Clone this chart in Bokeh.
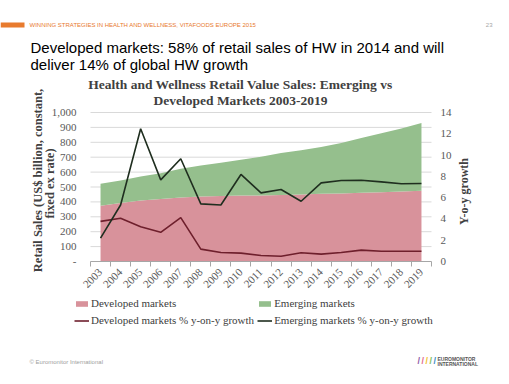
from math import pi
from bokeh.plotting import figure
from bokeh.models import (ColumnDataSource, Range1d, LinearAxis, FixedTicker, Label,
                          Legend, LegendItem, BoxAnnotation)
from bokeh.embed import file_html
from bokeh.resources import INLINE

# ---------------- data ----------------
years = ["2003", "2004", "2005", "2006", "2007", "2008", "2009", "2010", "2011",
         "2012", "2013", "2014", "2015", "2016", "2017", "2018", "2019"]
developed = [375, 393, 409, 420, 429, 436, 440, 443, 443, 447, 449, 454, 456, 461, 465, 470, 474]
emerging = [146, 151, 162, 173, 193, 209, 223, 240, 260, 281, 297, 315, 340, 368, 396, 422, 456]
developed_growth = [3.77, 4.06, 3.27, 2.74, 4.12, 1.16, 0.85, 0.79, 0.57, 0.50, 0.82, 0.69,
                    0.85, 1.07, 0.97, 0.97, 0.97]
emerging_growth = [2.20, 5.31, 12.48, 7.67, 9.65, 5.41, 5.31, 8.18, 6.45, 6.76, 5.66, 7.39,
                   7.61, 7.64, 7.48, 7.30, 7.33]
left_ticks = [0, 100, 200, 300, 400, 500, 600, 700, 800, 900, 1000]
left_tick_labels = ["-", "100", "200", "300", "400", "500", "600", "700", "800", "900", "1,000"]
right_ticks = [0, 2, 4, 6, 8, 10, 12, 14]
left_max = 1000
right_max = 14

# ---------------- styles / layout ----------------
PINK = "#D8929B"
GREEN = "#95BF8D"
RED_LINE = "#6E1F2C"
DARK_LINE = "#1F2E1F"
GRID = "#D9D9D9"
SERIF = "Liberation Serif"
SANS = "Liberation Sans"
W, H = 493, 368
CH_L, CH_R, CH_T, CH_B = 90, 431, 112, 261   # chart area inside the canvas (px)

n = len(years)
x_lo, x_hi = -0.5, n - 0.5
ppu_x = (CH_R - CH_L) / (x_hi - x_lo)
x_start = x_lo - CH_L / ppu_x
x_end = x_hi + (W - CH_R) / ppu_x
ch_h = CH_B - CH_T
y_start = -(H - CH_B) * left_max / ch_h
y_end = left_max + CH_T * left_max / ch_h
g_start = -(H - CH_B) * right_max / ch_h
g_end = right_max + CH_T * right_max / ch_h

idx = list(range(n))
source = ColumnDataSource(dict(x=idx, developed=developed, emerging=emerging,
                               dev_g=developed_growth, em_g=emerging_growth))
grid_src = ColumnDataSource(dict(y=left_ticks[1:], x0=[x_lo] * (len(left_ticks) - 1),
                                 x1=[x_hi] * (len(left_ticks) - 1)))

p = figure(width=W, height=H, output_backend="svg", toolbar_location=None,
           x_range=Range1d(x_start, x_end), y_range=Range1d(y_start, y_end),
           x_axis_type=None, y_axis_type=None, min_border=0)
p.outline_line_color = None
p.grid.visible = False
p.extra_y_ranges = {"growth": Range1d(g_start, g_end)}

# gridlines (behind the areas)
p.segment(x0="x0", y0="y", x1="x1", y1="y", source=grid_src, line_color=GRID, line_width=1)

# left axis
yaxis = LinearAxis(ticker=FixedTicker(ticks=left_ticks, minor_ticks=[]),
                   major_label_overrides={t: s for t, s in zip(left_ticks, left_tick_labels)},
                   fixed_location=x_lo, bounds=(0, left_max))
yaxis.axis_line_color = None
yaxis.major_tick_line_color = None
yaxis.minor_tick_line_color = None
yaxis.major_label_standoff = 8
yaxis.major_label_text_font = SERIF
yaxis.major_label_text_font_size = "11px"
yaxis.major_label_text_color = "#595959"
p.add_layout(yaxis, "left")

# right axis
raxis = LinearAxis(y_range_name="growth", ticker=FixedTicker(ticks=right_ticks, minor_ticks=[]),
                   fixed_location=x_hi, bounds=(0, right_max))
raxis.axis_line_color = None
raxis.major_tick_line_color = None
raxis.minor_tick_line_color = None
raxis.major_label_standoff = 3
raxis.major_label_text_font = SERIF
raxis.major_label_text_font_size = "11px"
raxis.major_label_text_color = "#595959"
p.add_layout(raxis, "right")

# bottom axis
xaxis = LinearAxis(ticker=FixedTicker(ticks=idx, minor_ticks=[i - 0.5 for i in range(n + 1)]),
                   major_label_overrides={i: y for i, y in zip(idx, years)},
                   fixed_location=0, bounds=(x_lo, x_hi))
xaxis.axis_line_color = "#A6A6A6"
xaxis.major_tick_line_color = None
xaxis.minor_tick_line_color = "#A6A6A6"
xaxis.minor_tick_in = 0
xaxis.minor_tick_out = 5
xaxis.major_label_orientation = pi / 4
xaxis.major_label_standoff = 3
xaxis.major_label_text_font = SERIF
xaxis.major_label_text_font_size = "11px"
xaxis.major_label_text_color = "#595959"
p.add_layout(xaxis, "below")

# data glyphs
areas = p.varea_stack(["developed", "emerging"], x="x", source=source, color=[PINK, GREEN])
l_dev = p.line("x", "dev_g", source=source, y_range_name="growth", line_color=RED_LINE, line_width=1.6)
l_em = p.line("x", "em_g", source=source, y_range_name="growth", line_color=DARK_LINE, line_width=1.6)

legend = Legend(items=[
    LegendItem(label="Developed markets", renderers=[areas[0]]),
    LegendItem(label="Emerging markets", renderers=[areas[1]]),
    LegendItem(label="Developed markets % y-on-y growth", renderers=[l_dev]),
    LegendItem(label="Emerging markets % y-on-y growth", renderers=[l_em]),
], orientation="horizontal", ncols=2, location=(74, 41))
legend.border_line_color = None
legend.background_fill_alpha = 0
legend.padding = 0
legend.margin = 0
legend.spacing = 3
legend.glyph_width = 15
legend.glyph_height = 7
legend.label_height = 14
legend.label_standoff = 2
legend.label_text_font = SERIF
legend.label_text_font_size = "11px"
legend.label_text_color = "#404040"
p.add_layout(legend)


def lab(text, X, Y, size, color, font=SANS, style="normal", align="left",
        baseline="middle", angle=0.0):
    """Place a text at canvas pixel (X, Y) measured from the top-left corner."""
    p.add_layout(Label(x=X, y=H - Y, x_units="screen", y_units="screen", text=text,
                       text_font=font, text_font_size=size, text_font_style=style,
                       text_color=color, text_align=align, text_baseline=baseline, angle=angle))


def px_x(X):
    return x_start + X / ppu_x


def px_y(Y):
    return y_end - Y * left_max / ch_h


# slide decorations
p.add_layout(BoxAnnotation(left=px_x(0), right=px_x(24), top=px_y(22), bottom=px_y(27),
                           fill_color="#E87B2E", fill_alpha=1, line_color=None))
lab("WINNING STRATEGIES IN HEALTH AND WELLNESS, VITAFOODS EUROPE 2015", 29, 24.5, "6px", "#E8792E")
lab("23", 492, 24.5, "6px", "#A6A6A6", align="right")
lab("Developed markets: 58% of retail sales of HW in 2014 and will", 30, 46.7, "15px", "#000000",
    baseline="alphabetic")
lab("deliver 14% of global HW growth", 30, 64, "15px", "#000000", baseline="alphabetic")
lab("\u00a9 Euromonitor International", 29, 361, "6px", "#A0A0A0")
for i, c in enumerate(["#8E5BA6", "#E26A8D", "#F2C12E", "#7DBE5A", "#3C8DC5"]):
    lab("/", 417 + 4 * i, 360.5, "9px", c, style="bold")
lab("EUROMONITOR", 437, 358.5, "5px", "#555555", style="bold")
lab("INTERNATIONAL", 437, 363.5, "5px", "#555555", style="bold")

# chart title
lab("Health and Wellness Retail Value Sales: Emerging vs", 240, 84, "13.5px", "#404040",
    font=SERIF, style="bold", align="center")
lab("Developed Markets 2003-2019", 240, 100, "13.5px", "#404040", font=SERIF, style="bold",
    align="center")

# axis titles
lab("Retail Sales (US$ billion, constant,", 37, 180, "12.5px", "#404040", font=SERIF, style="bold",
    align="center", angle=pi / 2)
lab("fixed ex rate)", 49.5, 183, "12.5px", "#404040", font=SERIF, style="bold", align="center",
    angle=pi / 2)
lab("Y-o-y growth", 463, 191, "12px", "#404040", font=SERIF, style="bold", align="center",
    angle=pi / 2)

open("out.html", "w").write(file_html(p, INLINE))
